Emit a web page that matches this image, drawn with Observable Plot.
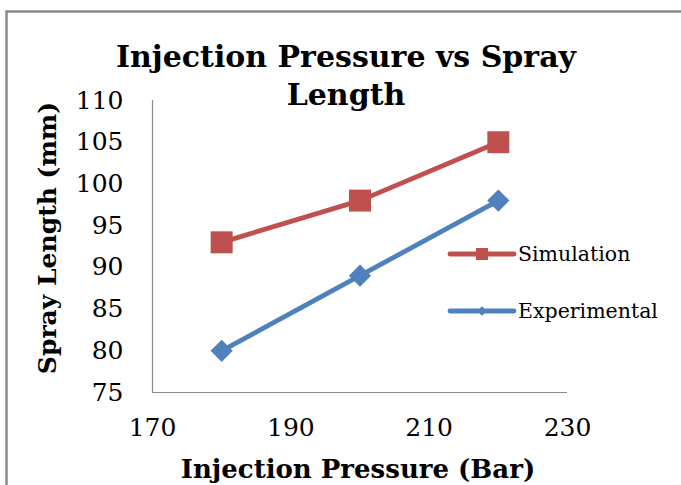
<!DOCTYPE html>
<html>
<head>
<meta charset="utf-8">
<script src="https://cdn.jsdelivr.net/npm/d3@7"></script>
<script src="https://cdn.jsdelivr.net/npm/@observablehq/plot@0.6"></script>
<style>
  html, body { margin: 0; padding: 0; background: #fff; }
  #chart svg { display: block; }
</style>
</head>
<body>
<div id="chart"></div>
<script>
const pressure = [180, 200, 220];
const simulation = [93, 98, 105];
const experimental = [80, 89, 98];
const xTicks = [170, 190, 210, 230];
const yTicks = [75, 80, 85, 90, 95, 100, 105, 110];
const seriesNames = ["Simulation", "Experimental"];
const seriesColors = ["#C0504D", "#4F81BD"];

const sim = pressure.map((p, i) => ({x: p, y: simulation[i]}));
const exp = pressure.map((p, i) => ({x: p, y: experimental[i]}));

const W = 681, H = 485;
const plot = Plot.plot({
  width: W,
  height: H,
  marginLeft: 152,
  marginRight: 114,
  marginTop: 100,
  marginBottom: 93,
  style: {fontFamily: "DejaVu Serif", fontSize: "25px", color: "#000", background: "#fff", overflow: "visible"},
  x: {domain: [170, 230], ticks: xTicks, tickSize: 0, tickPadding: 26, label: null},
  y: {domain: [75, 110], ticks: yTicks, tickSize: 0, tickPadding: 29, label: null},
  marks: [
    Plot.ruleY([75], {stroke: "#8c8c8c", strokeWidth: 1.2}),
    Plot.ruleX([170], {stroke: "#8c8c8c", strokeWidth: 1.2}),
    Plot.line(sim, {x: "x", y: "y", stroke: seriesColors[0], strokeWidth: 4.8}),
    Plot.line(exp, {x: "x", y: "y", stroke: seriesColors[1], strokeWidth: 4.8}),
    Plot.dot(sim, {x: "x", y: "y", symbol: "square", r: 12.4, fill: seriesColors[0], stroke: "none"}),
    Plot.dot(exp, {x: "x", y: "y", symbol: "diamond2", r: 10, fill: seriesColors[1], stroke: "none"})
  ]
});

const svg = d3.select(plot);
// outer chart border
svg.append("path")
  .attr("d", `M6.5,${H} V11.5 H${W}`)
  .attr("fill", "none").attr("stroke", "#8c8c8c").attr("stroke-width", 2.5);

// title
const title = svg.append("text")
  .attr("text-anchor", "middle")
  .attr("font-family", "DejaVu Serif").attr("font-weight", "bold")
  .attr("font-size", 30).attr("fill", "#000");
title.append("tspan").attr("x", 346).attr("y", 67).text("Injection Pressure vs Spray");
title.append("tspan").attr("x", 346).attr("y", 105).text("Length");

// axis titles
svg.append("text")
  .attr("x", 358).attr("y", 478)
  .attr("text-anchor", "middle")
  .attr("font-family", "DejaVu Serif").attr("font-weight", "bold")
  .attr("font-size", 26).attr("fill", "#000")
  .text("Injection Pressure (Bar)");
svg.append("text")
  .attr("transform", "translate(56,238) rotate(-90)")
  .attr("text-anchor", "middle")
  .attr("font-family", "DejaVu Serif").attr("font-weight", "bold")
  .attr("font-size", 25).attr("fill", "#000")
  .text("Spray Length (mm)");

// legend
const legendY = [254, 311];
seriesNames.forEach((name, i) => {
  const g = svg.append("g");
  g.append("line").attr("x1", 450).attr("x2", 514).attr("y1", legendY[i]).attr("y2", legendY[i])
    .attr("stroke", seriesColors[i]).attr("stroke-width", 4.8).attr("stroke-linecap", "round");
  if (i === 0) {
    g.append("rect").attr("x", 476).attr("y", legendY[i] - 6).attr("width", 12).attr("height", 12)
      .attr("fill", seriesColors[i]);
  } else {
    g.append("path").attr("d", d3.symbol(d3.symbolDiamond2, 60)())
      .attr("transform", `translate(482,${legendY[i]})`).attr("fill", seriesColors[i]);
  }
  g.append("text").attr("x", 518).attr("y", legendY[i]).attr("dy", "0.35em")
    .attr("text-anchor", "start")
    .attr("font-family", "DejaVu Serif").attr("font-size", 20.5).attr("fill", "#000")
    .text(name);
});

document.getElementById("chart").appendChild(plot);
</script>
</body>
</html>
